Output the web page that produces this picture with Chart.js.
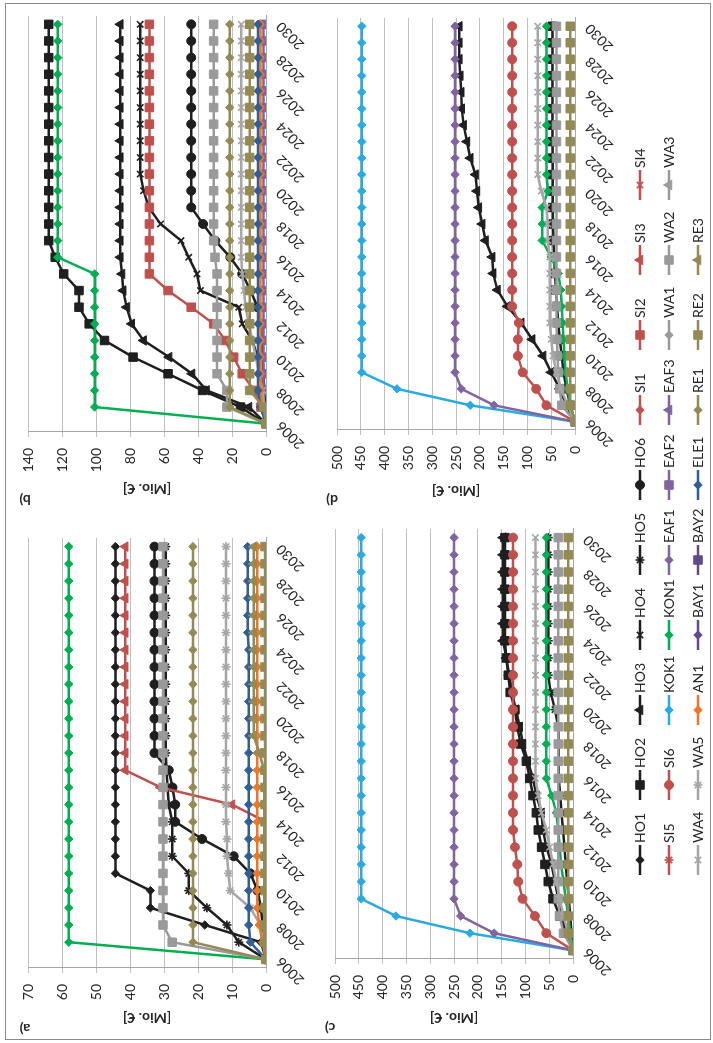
<!DOCTYPE html>
<html>
<head>
<meta charset="utf-8">
<script src="https://cdn.jsdelivr.net/npm/chart.js"></script>
<style>
  html, body { margin: 0; padding: 0; background: #fff; width: 713px; height: 1043px; overflow: hidden; }
  /* the figure is laid out upright (1043 x 713) and turned a quarter to the left */
  #fig { position: absolute; left: 0; top: 0; width: 1043px; height: 713px; transform-origin: 0 0;
         transform: translate(0, 1043px) rotate(-90deg); font-family: Lato, "Open Sans", sans-serif; color: #262626; }
  .frame { position: absolute; left: 3px; top: 5px; width: 1037px; height: 706px; border: 1px solid #8a8a8a; box-sizing: border-box; }
  canvas { position: absolute; }
  .tag { position: absolute; width: 40px; height: 20px; line-height: 20px; text-align: center; font-weight: bold; font-size: 14px; transform: rotate(-90deg); }
  .leg { position: absolute; font-size: 14px; line-height: 16px; white-space: nowrap; }
</style>
</head>
<body>
<div id="fig"><div class="frame"></div></div>
<script>
const YEARS = ['2006','2007','2008','2009','2010','2011','2012','2013','2014','2015','2016','2017','2018',
               '2019','2020','2021','2022','2023','2024','2025','2026','2027','2028','2029','2030'];

// panel a) [Mio. €], 2006..2030
const A_HO1  = [0, 1.5, 18, 34, 34, 44.3, 44.3, 44.3, 44.3, 44.3, 44.3, 44.3, 44.3, 44.3, 44.3, 44.3, 44.3, 44.3, 44.3, 44.3, 44.3, 44.3, 44.3, 44.3, 44.3];
const A_HO5  = [0, 8, 11.5, 17.4, 22.7, 22.7, 27.6, 27.6, 27.6, 28.6, 29, 29.3, 29.5, 29.5, 29.5, 29.5, 29.5, 29.5, 29.5, 29.5, 29.5, 29.5, 29.5, 29.5, 29.5];
const A_HO6  = [0, 0.5, 1, 1.5, 2.5, 4.6, 9.5, 18.8, 26.7, 26.7, 27.5, 28.6, 32.8, 32.8, 32.8, 32.8, 32.8, 32.8, 32.8, 32.8, 32.8, 32.8, 32.8, 32.8, 32.8];
const A_SI3  = [0, 0, 0, 0, 0, 0, 0, 0, 0, 10, 31, 41.4, 41.4, 41.4, 41.4, 41.4, 41.4, 41.4, 41.4, 41.4, 41.4, 41.4, 41.4, 41.4, 41.4];
const A_KON1 = [0, 58, 58, 58, 58, 58, 58, 58, 58, 58, 58, 58, 58, 58, 58, 58, 58, 58, 58, 58, 58, 58, 58, 58, 58];
const A_WA2  = [0, 27.6, 30.3, 30.3, 30.3, 30.3, 30.3, 30.3, 30.3, 30.3, 30.3, 30.3, 30.3, 30.3, 30.3, 30.3, 30.3, 30.3, 30.3, 30.3, 30.3, 30.3, 30.3, 30.3, 30.3];
const A_WA5  = [0, 0.8, 1.7, 4.6, 10.5, 11, 11.5, 11.5, 11.8, 11.8, 11.8, 11.8, 11.8, 11.8, 11.8, 11.8, 11.8, 11.8, 11.8, 11.8, 11.8, 11.8, 11.8, 11.8, 11.8];
const A_AN1  = [0, 1, 2, 2.6, 2.6, 2.6, 2.6, 2.6, 2.6, 2.6, 2.6, 2.6, 2.6, 2.6, 2.6, 2.6, 2.6, 2.6, 2.6, 2.6, 2.6, 2.6, 2.6, 2.6, 2.6];
const A_ELE1 = [0, 4.6, 5.1, 5.1, 5.1, 5.1, 5.1, 5.1, 5.1, 5.1, 5.1, 5.1, 5.1, 5.1, 5.1, 5.1, 5.1, 5.1, 5.1, 5.4, 5.4, 5.4, 5.4, 5.4, 5.4];
const A_RE1  = [0, 21.5, 21.5, 21.5, 21.5, 21.5, 21.5, 21.5, 21.5, 21.5, 21.5, 21.5, 21.5, 21.5, 21.5, 21.5, 21.5, 21.5, 21.5, 21.5, 21.5, 21.5, 21.5, 21.5, 21.5];
const A_RE2  = [0, 0.3, 0.3, 0.3, 0.3, 0.3, 0.3, 0.3, 0.3, 0.3, 0.3, 0.3, 0.3, 0.3, 0.3, 0.3, 0.3, 0.3, 0.3, 0.3, 0.3, 0.3, 0.3, 0.3, 0.3];
const A_RE3  = [0, 0.5, 0.5, 0.5, 0.5, 0.5, 0.5, 0.5, 0.5, 0.5, 0.5, 0.5, 2, 3.6, 3.6, 3.6, 3.6, 3.6, 3.6, 3.6, 3.6, 3.6, 3.6, 3.6, 3.6];

// panel b)
const B_HO2  = [0, 15, 37.3, 57.6, 78.2, 95, 104, 110, 110, 119, 124, 127.8, 127.8, 127.8, 127.8, 127.8, 127.8, 127.8, 127.8, 127.8, 127.8, 127.8, 127.8, 127.8, 127.8];
const B_HO3  = [0, 10, 35, 43.5, 57, 72, 79, 82, 84, 84.7, 85.7, 85.7, 85.7, 85.7, 85.7, 85.7, 85.7, 85.7, 85.7, 85.7, 85.7, 85.7, 85.7, 85.7, 85.7];
const B_HO4  = [0, 1, 2, 3, 5, 8, 14, 16, 38.6, 40.6, 45.5, 50, 62, 69, 72, 74, 74, 74, 74, 74, 74, 74, 74, 74, 74];
const B_HO6  = [0, 0.5, 1, 1.5, 2, 2.5, 3, 5, 9, 14, 21, 29.8, 37, 44, 44, 44, 44, 44, 44, 44, 44, 44, 44, 44, 44];
const B_SI2  = [0, 3, 7, 14, 19, 24, 30.8, 44, 57.6, 68.6, 68.6, 68.6, 68.6, 68.6, 68.6, 68.6, 68.6, 68.6, 68.6, 68.6, 68.6, 68.6, 68.6, 68.6, 68.6];
const B_KON1 = [0, 100.8, 100.8, 100.8, 100.8, 100.8, 100.8, 100.8, 100.8, 100.8, 122.5, 122.5, 122.5, 122.5, 122.5, 122.5, 122.5, 122.5, 122.5, 122.5, 122.5, 122.5, 122.5, 122.5, 122.5];
const B_EAF2 = [0, 1, 1.4, 1.4, 1.4, 1.4, 1.4, 1.4, 1.4, 1.4, 1.4, 1.4, 1.4, 1.4, 1.4, 1.4, 1.4, 1.4, 1.4, 1.4, 1.4, 1.4, 1.4, 1.4, 1.4];
const B_WA2  = [0, 23, 23, 28.8, 28.8, 28.8, 28.8, 28.8, 28.8, 28.8, 30, 30.8, 30.8, 30.8, 30.8, 30.8, 30.8, 30.8, 30.8, 30.8, 30.8, 30.8, 30.8, 30.8, 30.8];
const B_WA4  = [0, 1, 2, 4, 6, 8, 10, 12, 13, 14, 14.5, 14.5, 14.5, 14.5, 14.5, 14.5, 14.5, 14.5, 14.5, 14.5, 14.5, 14.5, 14.5, 14.5, 14.5];
const B_AN1  = [0, 2, 3.3, 3.3, 3.3, 3.3, 3.3, 3.3, 3.3, 3.3, 3.3, 3.3, 3.3, 3.3, 3.3, 3.3, 3.3, 3.3, 3.3, 3.3, 3.3, 3.3, 3.3, 3.3, 3.3];
const B_ELE1 = [0, 3.3, 4.7, 4.7, 4.7, 4.7, 4.7, 4.7, 4.7, 4.7, 4.7, 4.7, 4.7, 4.7, 4.7, 4.7, 4.7, 4.7, 4.7, 4.7, 4.7, 4.7, 4.7, 4.7, 4.7];
const B_RE1  = [0, 21.3, 21.3, 21.3, 21.3, 21.3, 21.3, 21.3, 21.3, 21.3, 21.3, 21.3, 21.3, 21.3, 21.3, 21.3, 21.3, 21.3, 21.3, 21.3, 21.3, 21.3, 21.3, 21.3, 21.3];
const B_RE2  = [0, 1.5, 9.6, 9.6, 9.6, 9.6, 9.6, 9.6, 9.6, 9.6, 9.6, 9.6, 9.6, 9.6, 9.6, 9.6, 9.6, 9.6, 9.6, 9.6, 9.6, 9.6, 9.6, 9.6, 9.6];

// panel c)
const C_HO2  = [0, 14, 28, 42, 52, 59, 66, 73, 77, 84, 91, 98, 110, 117, 122, 132, 136, 140, 143, 143, 143, 143, 143, 143, 143];
const C_HO3  = [0, 12, 22, 31, 38, 45, 56, 63, 66, 77, 84, 95, 105, 112, 120, 128, 134, 140, 147, 147, 147, 147, 147, 147, 147];
const C_HO5  = [0, 3, 6, 9, 12, 15, 18, 21, 24, 27, 30, 30, 30, 31, 38, 47, 52, 52, 52, 52, 52, 52, 52, 52, 52];
const C_SI6  = [0, 56, 80, 106, 115, 117, 122, 126, 126, 126, 126, 126, 126, 126, 126, 126, 126, 126, 126, 126, 126, 126, 126, 126, 126];
const C_KOK1 = [0, 216.5, 372, 445, 445, 445, 445, 445, 445, 445, 445, 445, 445, 445, 445, 445, 445, 445, 445, 445, 445, 445, 445, 445, 445];
const C_KON1 = [0, 5, 10, 15, 20, 25, 28, 31, 35, 45, 56, 56, 56, 56, 56, 56, 56, 56, 56, 56, 56, 56, 56, 56, 56];
const C_EAF1 = [0, 165.5, 236, 250, 250, 250, 250, 250, 250, 250, 250, 250, 250, 250, 250, 250, 250, 250, 250, 250, 250, 250, 250, 250, 250];
const C_WA2  = [0, 20, 28, 31, 31, 31, 31, 31, 31, 31, 31, 31, 31, 31, 31, 31, 31, 31, 31, 31, 31, 31, 31, 31, 31];
const C_WA4  = [0, 10, 20, 28, 35, 42, 49, 56, 66, 73, 79, 79, 79, 79, 79, 79, 79, 79, 79, 79, 79, 79, 79, 79, 79];
const C_RE2  = [0, 10, 10, 10, 10, 10, 10, 10, 10, 10, 10, 10, 10, 10, 10, 10, 10, 10, 10, 10, 10, 10, 10, 10, 10];

// panel d)
const D_HO2  = [0, 10, 18, 24, 28, 32, 35, 38, 40, 42, 44, 45, 46, 47, 47, 47, 47, 47.5, 47.5, 47.5, 47.5, 47.5, 47.5, 47.5, 47.5];
const D_HO3  = [0, 18, 32, 50, 67, 90, 113, 142, 163, 172, 174, 188, 195, 202, 206, 209, 220, 227, 234, 238, 239, 241, 243, 243, 243];
const D_SI6  = [0, 60, 81.6, 110, 120, 120, 118, 132, 132, 132, 132, 132, 132, 132, 132, 132, 132, 132, 132, 132, 132, 132, 132, 132, 132];
const D_KOK1 = [0, 220, 374, 448, 448, 448, 448, 448, 448, 448, 448, 448, 448, 448, 448, 448, 448, 448, 448, 448, 448, 448, 448, 448, 448];
const D_KON1 = [0, 10, 15, 20, 22, 24, 26, 28, 30, 35, 50, 69, 69, 69, 57, 60, 60, 60, 60, 60, 60, 60, 60, 60, 60];
const D_EAF1 = [0, 170, 239, 252, 252, 252, 252, 252, 252, 252, 252, 252, 252, 252, 252, 252, 252, 252, 252, 252, 252, 252, 252, 252, 252];
const D_WA2  = [0, 28, 32, 35, 37, 38, 39, 39, 39, 39, 39, 39, 39, 39, 39, 39, 39, 39, 39, 39, 39, 39, 39, 39, 39];
const D_WA4  = [0, 15, 30, 39, 46, 50, 53, 53, 53, 53, 53, 57, 57, 60, 71, 78, 78, 78, 78, 78, 78, 78, 78, 78, 78];
const D_RE2  = [0, 10, 10, 10, 10, 10, 10, 10, 10, 10, 10, 10, 10, 10, 10, 10, 10, 10, 10, 10, 10, 10, 10, 10, 10];

// legend order: name, colour, marker
const SERIES = [
  ['HO1', '#1f1f1f', 'rectRot'], ['HO2', '#1f1f1f', 'rect'], ['HO3', '#1f1f1f', 'triangle'], ['HO4', '#1f1f1f', 'crossRot'],
  ['HO5', '#1f1f1f', 'star'], ['HO6', '#1f1f1f', 'circle'], ['SI1', '#c0504d', 'rectRot'], ['SI2', '#c0504d', 'rect'],
  ['SI3', '#c0504d', 'triangle'], ['SI4', '#c0504d', 'crossRot'],
  ['SI5', '#c0504d', 'star'], ['SI6', '#c0504d', 'circle'], ['KOK1', '#29abe2', 'rectRot'], ['KON1', '#00b050', 'rectRot'],
  ['EAF1', '#8064a2', 'rectRot'], ['EAF2', '#8064a2', 'rect'], ['EAF3', '#8064a2', 'triangle'], ['WA1', '#9a9a9a', 'rectRot'],
  ['WA2', '#9a9a9a', 'rect'], ['WA3', '#9a9a9a', 'triangle'],
  ['WA4', '#a6a6a6', 'crossRot'], ['WA5', '#a6a6a6', 'star'], ['AN1', '#ee7624', 'rectRot'], ['BAY1', '#604a8b', 'rectRot'],
  ['BAY2', '#604a8b', 'rect'], ['ELE1', '#2f5f98', 'rectRot'], ['RE1', '#948a54', 'rectRot'], ['RE2', '#948a54', 'rect'],
  ['RE3', '#948a54', 'triangle']
];
const RAD = { rectRot: 4.2, rect: 6, triangle: 5.5, crossRot: 4.5, star: 4.5, circle: 4.5 };

const PANELS = [
  { tag: 'a)', tagAt: [14, 25],  left: 0,   top: 8,   plotRight: 505,  yW: 75, max: 70,  step: 10,
    sets: [['HO1', A_HO1], ['HO5', A_HO5], ['HO6', A_HO6], ['SI3', A_SI3], ['KON1', A_KON1], ['WA2', A_WA2],
           ['WA5', A_WA5], ['AN1', A_AN1], ['ELE1', A_ELE1], ['RE1', A_RE1], ['RE2', A_RE2], ['RE3', A_RE3]] },
  { tag: 'b)', tagAt: [543, 25], left: 529, top: 8,   plotRight: 1027, yW: 82, max: 140, step: 20,
    sets: [['HO2', B_HO2], ['HO3', B_HO3], ['HO4', B_HO4], ['HO6', B_HO6], ['SI2', B_SI2], ['KON1', B_KON1],
           ['EAF2', B_EAF2], ['WA2', B_WA2], ['WA4', B_WA4], ['AN1', B_AN1], ['ELE1', B_ELE1], ['RE1', B_RE1], ['RE2', B_RE2]] },
  { tag: 'c)', tagAt: [15, 330], left: 0,   top: 315, plotRight: 514,  yW: 84, max: 500, step: 50,
    sets: [['HO2', C_HO2], ['HO3', C_HO3], ['HO5', C_HO5], ['SI6', C_SI6], ['KOK1', C_KOK1], ['KON1', C_KON1],
           ['EAF1', C_EAF1], ['WA2', C_WA2], ['WA4', C_WA4], ['RE2', C_RE2]] },
  { tag: 'd)', tagAt: [543, 332], left: 527, top: 317, plotRight: 1025, yW: 86, max: 500, step: 50,
    sets: [['HO2', D_HO2], ['HO3', D_HO3], ['SI6', D_SI6], ['KOK1', D_KOK1], ['KON1', D_KON1], ['EAF1', D_EAF1],
           ['WA2', D_WA2], ['WA4', D_WA4], ['RE2', D_RE2]] }
];

const FONT = 'Lato';
const TXT = '#262626';
const fig = document.getElementById('fig');
Chart.defaults.font.family = FONT;

function makeDataset(name, data) {
  const i = SERIES.findIndex(s => s[0] === name);
  const [label, color, style] = SERIES[i];
  const stroked = style === 'crossRot' || style === 'star';
  return {
    label, data,
    borderColor: color, backgroundColor: color,
    pointBackgroundColor: color, pointBorderColor: color,
    pointStyle: style, pointRadius: RAD[style], pointBorderWidth: stroked ? 1.6 : 1,
    borderWidth: 2.5, tension: 0,
    order: 100 - i   // later legend entries are painted on top, as in the original
  };
}

PANELS.forEach(p => {
  const cv = document.createElement('canvas');
  const w = p.plotRight + 15 - p.left;
  const h = 308;
  cv.width = w; cv.height = h;
  cv.style.left = p.left + 'px'; cv.style.top = p.top + 'px';
  cv.style.width = w + 'px'; cv.style.height = h + 'px';
  fig.appendChild(cv);

  new Chart(cv.getContext('2d'), {
    type: 'line',
    data: { labels: YEARS, datasets: p.sets.map(s => makeDataset(s[0], s[1])) },
    options: {
      responsive: false,
      animation: false,
      devicePixelRatio: 1,
      layout: { padding: { top: 20, right: 15, bottom: 0, left: 0 } },
      plugins: { legend: { display: false }, tooltip: { enabled: false } },
      scales: {
        x: {
          type: 'category',
          offset: true,
          grid: { display: false, drawTicks: false },
          border: { display: true, color: '#a6a6a6', width: 1 },
          ticks: {
            autoSkip: false, minRotation: 45, maxRotation: 45, padding: 7,
            color: TXT, font: { family: FONT, size: 14 },
            callback: (v, i) => (i % 2 === 0 ? YEARS[i] : '')
          },
          afterFit: s => { s.height = p.top === 8 ? 50 : 50; }
        },
        y: {
          min: 0, max: p.max,
          ticks: { stepSize: p.step, padding: 11, color: TXT, font: { family: FONT, size: 14 } },
          grid: { color: '#bfbfbf', tickLength: 5 },
          border: { color: '#a6a6a6' },
          title: { display: true, text: '[Mio. €]', color: TXT,
                   font: { family: FONT, size: 14, weight: 'bold' }, padding: { top: 17, bottom: 0 } },
          afterFit: s => { s.width = p.yW; }
        }
      }
    }
  });

  const t = document.createElement('div');
  t.className = 'tag';
  t.textContent = p.tag;
  t.style.left = (p.tagAt[0] - 20) + 'px';
  t.style.top = (p.tagAt[1] - 10) + 'px';
  fig.appendChild(t);
});

// legend: three rows of line + marker + name
const LEG_TOP = 620;
const lc = document.createElement('canvas');
lc.width = 1043; lc.height = 92;
lc.style.left = '0px'; lc.style.top = LEG_TOP + 'px';
lc.style.width = '1043px'; lc.style.height = '92px';
fig.appendChild(lc);
const g = lc.getContext('2d');
SERIES.forEach((s, i) => {
  const col = i % 10, row = Math.floor(i / 10);
  const x = 183 + 75 * col, y = 640 + 29 * row;
  const [name, color, style] = s;
  g.strokeStyle = color; g.fillStyle = color; g.lineWidth = 2.5;
  g.beginPath(); g.moveTo(x - 15, y - LEG_TOP); g.lineTo(x + 15, y - LEG_TOP); g.stroke();
  const stroked = style === 'crossRot' || style === 'star';
  g.lineWidth = stroked ? 1.6 : 1;
  Chart.helpers.drawPoint(g, { pointStyle: style, radius: RAD[style], borderWidth: g.lineWidth, rotation: 0 }, x, y - LEG_TOP);

  const lab = document.createElement('div');
  lab.className = 'leg';
  lab.textContent = name;
  lab.style.left = (x + 17) + 'px';
  lab.style.top = (y - 8) + 'px';
  fig.appendChild(lab);
});
</script>
</body>
</html>
